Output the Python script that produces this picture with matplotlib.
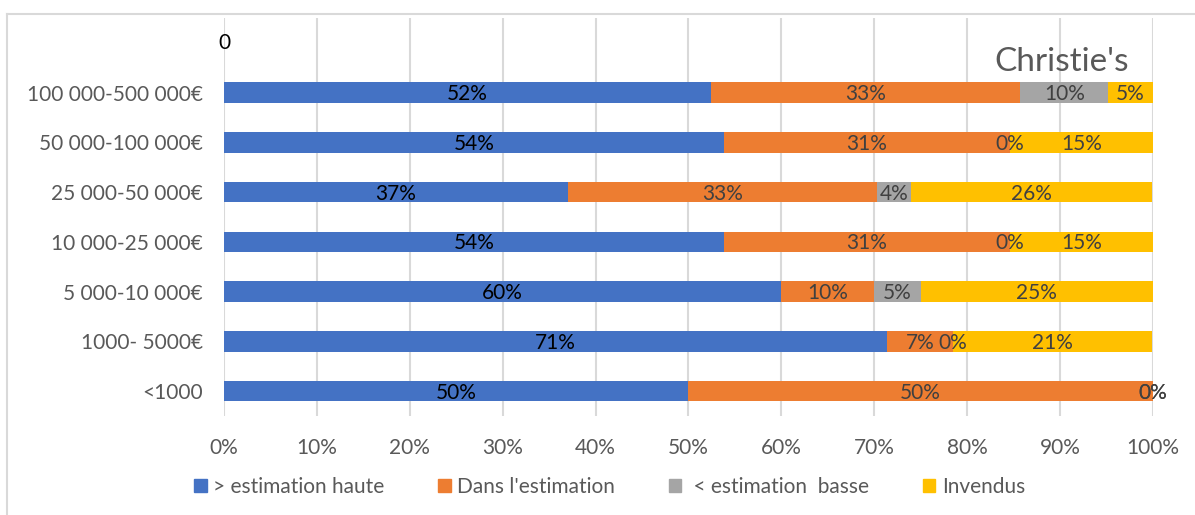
import matplotlib.pyplot as plt
from matplotlib.lines import Line2D
import matplotlib.patches as mpatches

plt.rcParams['font.family'] = ['Lato', 'DejaVu Sans']

# categories, bottom to top
categories = ['<1000', '1000- 5000€', '5 000-10 000€', '10 000-25 000€',
              '25 000-50 000€', '50 000-100 000€', '100 000-500 000€']
# shares in percent
au_dessus = [50.0, 71.4, 60.0, 53.8, 37.0, 53.8, 52.4]
dans = [50.0, 7.1, 10.0, 30.8, 33.3, 30.8, 33.3]
en_dessous = [0.0, 0.0, 5.0, 0.0, 3.7, 0.0, 9.5]
invendus = [0.0, 21.4, 25.0, 15.4, 25.9, 15.4, 4.8]

series = [au_dessus, dans, en_dessous, invendus]
noms = ['> estimation haute', "Dans l'estimation", ' < estimation  basse', 'Invendus']
couleurs = ['#4472C4', '#ED7D31', '#A5A5A5', '#FFC000']
couleurs_txt = ['#000000', '#404040', '#404040', '#404040']

fig = plt.figure(figsize=(11.95, 5.15), dpi=100)
ax = fig.add_axes([0.1874, 0.1922, 0.7774, 0.7728])

y = list(range(len(categories)))
gauche = [0.0] * len(categories)
for vals, nom, c, ct in zip(series, noms, couleurs, couleurs_txt):
    ax.barh(y, vals, left=gauche, height=0.41, color=c, label=nom, zorder=3)
    for i, v in enumerate(vals):
        ax.text(gauche[i] + v / 2, i - 0.03, '%d%%' % round(v), ha='center', va='center',
                fontsize=15, color=ct, zorder=4)
    gauche = [g + v for g, v in zip(gauche, vals)]

# étiquette vide en haut
ax.text(0, 7, '0', ha='center', va='center', fontsize=15, color='black')

ax.set_xlim(0, 100)
ax.set_ylim(-0.5, 7.5)
ax.set_yticks(y)
ax.set_yticklabels(categories)
ax.set_xticks(range(0, 101, 10))
ax.set_xticklabels(['%d%%' % t for t in range(0, 101, 10)])
ax.tick_params(axis='both', length=0, labelsize=15, labelcolor='#595959')
ax.tick_params(axis='x', pad=16)
ax.tick_params(axis='y', pad=15)
ax.grid(axis='x', color='#D9D9D9', linewidth=1.5, zorder=0)
for s in ax.spines.values():
    s.set_visible(False)

fig.text(0.888, 0.88, "Christie's", ha='center', va='center', fontsize=24, color='#595959')

handles = [mpatches.Patch(color=c, label=n) for c, n in zip(couleurs, noms)]
fig.legend(handles=handles, loc='center', bbox_to_anchor=(0.51, 0.054), ncol=4, frameon=False,
           fontsize=15, handlelength=0.6, handleheight=0.6, handletextpad=0.3,
           columnspacing=2.6, labelcolor='#595959')

# cadre
fig.add_artist(Line2D([0.006, 1.0], [0.973, 0.973], color='#D9D9D9', linewidth=1.5))
fig.add_artist(Line2D([0.006, 0.006], [0.0, 0.973], color='#D9D9D9', linewidth=1.5))

plt.savefig('out.png', dpi=100)
